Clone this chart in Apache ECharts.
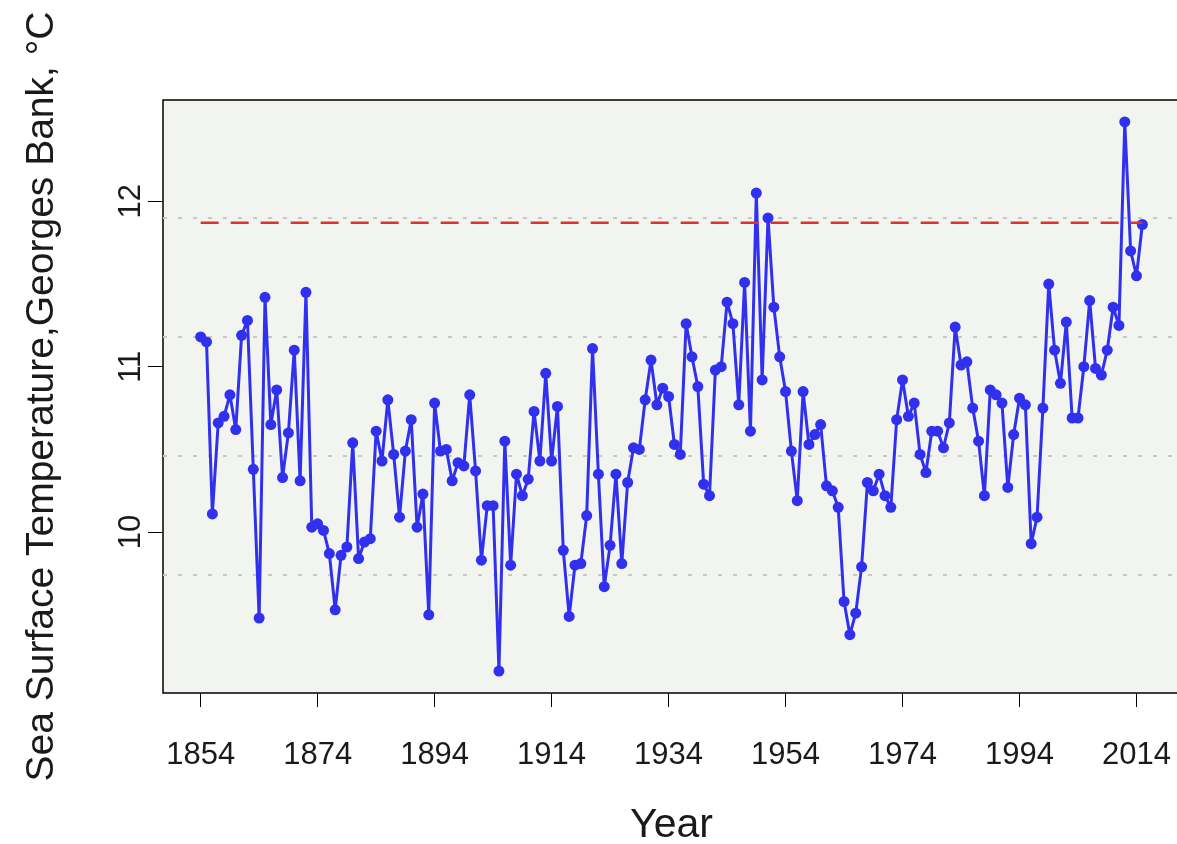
<!DOCTYPE html>
<html>
<head>
<meta charset="utf-8">
<script src="https://cdn.jsdelivr.net/npm/echarts@6/dist/echarts.min.js"></script>
<style>
html, body { margin: 0; padding: 0; background: #fff; }
#sst { width: 1177px; height: 844px; }
</style>
</head>
<body>
<div id="sst"></div>
<script>
var myChart = echarts.init(document.getElementById('sst'));

// annual sea surface temperature, Georges Bank, 1854 onwards (deg C)
var firstYear = 1854;
var sst = [
    11.18, 11.15, 10.11, 10.66, 10.70, 10.83, 10.62, 11.19, 11.28, 10.38, // 1854
    9.48, 11.42, 10.65, 10.86, 10.33, 10.60, 11.10, 10.31, 11.45, 10.03,  // 1864
    10.05, 10.01, 9.87, 9.53, 9.86, 9.91, 10.54, 9.84, 9.94, 9.96,        // 1874
    10.61, 10.43, 10.80, 10.47, 10.09, 10.49, 10.68, 10.03, 10.23, 9.50,  // 1884
    10.78, 10.49, 10.50, 10.31, 10.42, 10.40, 10.83, 10.37, 9.83, 10.16,  // 1894
    10.16, 9.16, 10.55, 9.80, 10.35, 10.22, 10.32, 10.73, 10.43, 10.96,   // 1904
    10.43, 10.76, 9.89, 9.49, 9.80, 9.81, 10.10, 11.11, 10.35, 9.67,      // 1914
    9.92, 10.35, 9.81, 10.30, 10.51, 10.50, 10.80, 11.04, 10.77, 10.87,   // 1924
    10.82, 10.53, 10.47, 11.26, 11.06, 10.88, 10.29, 10.22, 10.98, 11.00, // 1934
    11.39, 11.26, 10.77, 11.51, 10.61, 12.05, 10.92, 11.90, 11.36, 11.06, // 1944
    10.85, 10.49, 10.19, 10.85, 10.53, 10.59, 10.65, 10.28, 10.25, 10.15, // 1954
    9.58, 9.38, 9.51, 9.79, 10.30, 10.25, 10.35, 10.22, 10.15, 10.68,     // 1964
    10.92, 10.70, 10.78, 10.47, 10.36, 10.61, 10.61, 10.51, 10.66, 11.24, // 1974
    11.01, 11.03, 10.75, 10.55, 10.22, 10.86, 10.83, 10.78, 10.27, 10.59, // 1984
    10.81, 10.77, 9.93, 10.09, 10.75, 11.50, 11.10, 10.90, 11.27, 10.69,  // 1994
    10.69, 11.00, 11.40, 10.99, 10.95, 11.10, 11.36, 11.25, 12.48, 11.70, // 2004
    11.55, 11.86                                                          // 2014
];
// grey dotted reference levels and the red dashed one
var refLevels = [9.74, 10.46, 11.18, 11.90];
var refTemp = 11.87;
var yearTicks = [1854, 1874, 1894, 1914, 1934, 1954, 1974, 1994, 2014];
var tempTicks = [10, 11, 12];

var lastYear = firstYear + sst.length - 1;
var points = sst.map(function (v, i) {
    return [firstYear + i, v];
});
// same 4% padding as R's default axes
var xPad = (lastYear - firstYear) * 0.04;
var yMin = Math.min.apply(null, sst);
var yMax = Math.max.apply(null, sst);
var yPad = (yMax - yMin) * 0.04;

var txt = '#1a1a1a';
var font = "'Liberation Sans', Arial, sans-serif";
var blue = '#3030ee';

option = {
    animation: false,
    backgroundColor: '#ffffff',
    textStyle: { fontFamily: font },
    grid: {
        left: 163,
        right: -3,
        top: 100,
        bottom: 151,
        outerBoundsMode: 'none',
        containLabel: false,
        show: true,
        backgroundColor: '#f2f4ef',
        borderColor: '#000',
        borderWidth: 1.5
    },
    xAxis: {
        type: 'value',
        min: firstYear - xPad,
        max: lastYear + xPad,
        name: 'Year',
        nameLocation: 'middle',
        nameGap: 112,
        nameTextStyle: { fontSize: 41, color: txt, fontFamily: font },
        axisLine: { show: false },
        axisTick: {
            show: true,
            customValues: yearTicks,
            length: 14,
            lineStyle: { color: '#000', width: 1 }
        },
        axisLabel: {
            customValues: yearTicks,
            fontSize: 31,
            color: txt,
            margin: 47,
            formatter: function (v) { return String(v); }
        },
        splitLine: { show: false }
    },
    yAxis: {
        type: 'value',
        min: yMin - yPad,
        max: yMax + yPad,
        name: 'Sea Surface Temperature,Georges Bank, °C',
        nameLocation: 'middle',
        nameGap: 101,
        nameTextStyle: { fontSize: 39, color: txt, fontFamily: font },
        axisLine: { show: false },
        axisTick: {
            show: true,
            customValues: tempTicks,
            length: 15,
            lineStyle: { color: '#000', width: 1 }
        },
        axisLabel: {
            customValues: tempTicks,
            rotate: 90,
            fontSize: 31,
            color: txt,
            margin: 16,
            formatter: function (v) { return String(v); }
        },
        splitLine: { show: false }
    },
    series: [{
        // dotted grey levels, kept under the data
        type: 'line',
        data: [],
        z: 1,
        markLine: {
            silent: true,
            z: 1,
            symbol: 'none',
            label: { show: false },
            lineStyle: { color: '#c8c8c8', width: 2, type: [4, 11] },
            data: refLevels.map(function (v) { return { yAxis: v }; })
        }
    }, {
        name: 'SST',
        type: 'line',
        data: points,
        z: 2,
        symbol: 'circle',
        symbolSize: 11,
        showAllSymbol: true,
        itemStyle: { color: blue },
        lineStyle: { color: blue, width: 3 }
    }, {
        // red dashed level over the whole record
        type: 'line',
        data: [[firstYear, refTemp], [lastYear, refTemp]],
        z: 3,
        symbol: 'none',
        lineStyle: { color: '#e03131', width: 2.5, type: [18, 12] }
    }]
};

if (option && typeof option === 'object') {
    myChart.setOption(option, true);
}
</script>
</body>
</html>
